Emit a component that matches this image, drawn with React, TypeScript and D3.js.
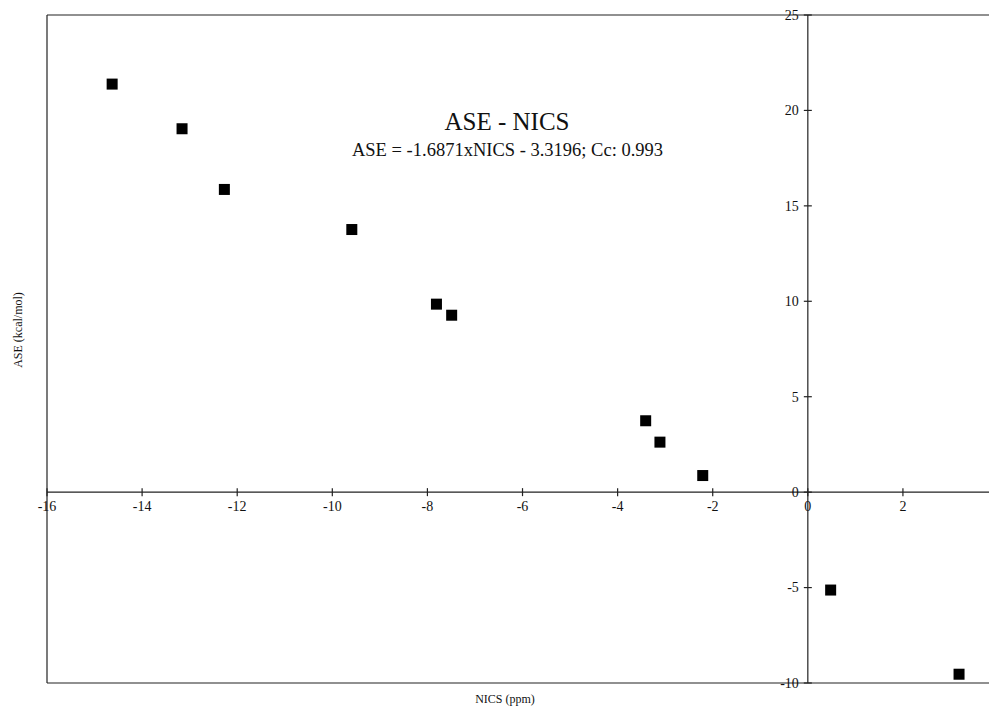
import React from "react";
import * as d3 from "d3";

// NICS (ppm) vs ASE (kcal/mol)
const nics = [-14.63, -13.16, -12.27, -9.59, -7.81, -7.49, -3.41, -3.11, -2.21, 0.48, 3.18];
const ase = [21.38, 19.04, 15.86, 13.76, 9.85, 9.27, 3.74, 2.62, 0.87, -5.13, -9.54];
const xTicks = [-16, -14, -12, -10, -8, -6, -4, -2, 0, 2];
const yTicks = [25, 20, 15, 10, 5, 0, -5, -10];

const W = 989;
const H = 719;
const font = "'Liberation Serif', 'Times New Roman', serif";

export default function App() {
  const left = 47, right = 989, top = 15, bottom = 683;
  const x = d3.scaleLinear().domain([-16, 3.81]).range([left, right]);
  const y = d3.scaleLinear().domain([-10, 25]).range([bottom, top]);
  const x0 = x(0), y0 = y(0);
  const sq = 11;

  return (
    <svg width={W} height={H} style={{ position: "absolute", left: 0, top: 0, background: "#fff" }}>
      <g stroke="#222" strokeWidth={1.2} fill="none">
        <line x1={left} x2={right} y1={top} y2={top} />
        <line x1={left} x2={right} y1={bottom} y2={bottom} />
        <line x1={left} x2={left} y1={top} y2={bottom} />
        <line x1={left} x2={right} y1={y0} y2={y0} />
        <line x1={x0} x2={x0} y1={top} y2={bottom} />
        {xTicks.map(t => (
          <line key={"xt" + t} x1={x(t)} x2={x(t)} y1={y0 - 4} y2={y0 + 4} />
        ))}
        {yTicks.map(t => (
          <line key={"yt" + t} x1={x0 - 4} x2={x0 + 4} y1={y(t)} y2={y(t)} />
        ))}
      </g>
      <g fontFamily={font} fontSize={14} fill="#111">
        {xTicks.map(t => (
          <text key={"xl" + t} x={x(t)} y={y0 + 19} textAnchor="middle">{t}</text>
        ))}
        {yTicks.map(t => (
          <text key={"yl" + t} x={x0 - 9} y={y(t)} dy="0.35em" textAnchor="end">{t}</text>
        ))}
      </g>
      <g fill="#000">
        {nics.map((v, i) => (
          <rect key={i} x={x(v) - sq / 2} y={y(ase[i]) - sq / 2} width={sq} height={sq} />
        ))}
      </g>
      <text x={507} y={130} textAnchor="middle" fontFamily={font} fontSize={25} fill="#111">ASE - NICS</text>
      <text x={507.5} y={156} textAnchor="middle" fontFamily={font} fontSize={18.5} fill="#111">
        ASE = -1.6871xNICS - 3.3196; Cc: 0.993
      </text>
      <text transform="translate(22,330) rotate(-90)" textAnchor="middle" fontFamily={font} fontSize={12} fill="#111">
        ASE (kcal/mol)
      </text>
      <text x={505} y={703} textAnchor="middle" fontFamily={font} fontSize={12} fill="#111">NICS (ppm)</text>
    </svg>
  );
}
